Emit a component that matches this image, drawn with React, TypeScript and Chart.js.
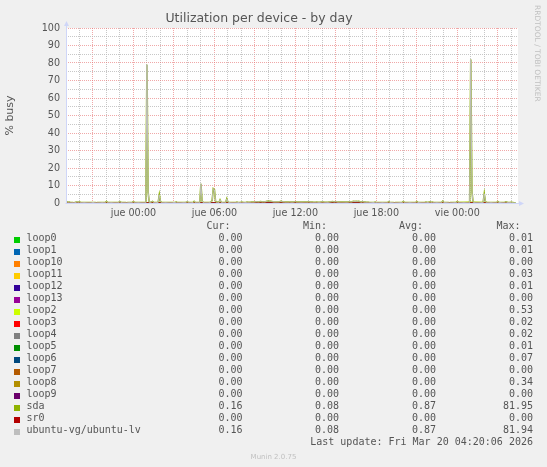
import React, { useEffect, useRef } from "react";
import { Chart, registerables } from "chart.js";

Chart.register(...registerables);

// ---- time axis (hours relative to "jue 00:00") ----
const X_MIN = -5;
const X_MAX = 28.5;
const SDA_START_HOUR = -5; // first 5-minute sample
const SDA_STEP_MINUTES = 5;
const tickHours = [0, 6, 12, 18, 24];
const tickLabels = ["jue 00:00", "jue 06:00", "jue 12:00", "jue 18:00", "vie 00:00"];

// ---- sda utilization, 5-minute samples, one row per hour ----
const sdaValues = [
  0.3, 0.6, 0.4, 0.5, 0.2, 0.2, 0.2, 0.1, 0.2, 0.5, 0.6, 0.4,
  0.6, 0.3, 0.2, 0.2, 0.2, 0.2, 0.2, 0.2, 0.2, 0.2, 0.2, 0.2,
  0.3, 0.2, 0.2, 0.1, 0.2, 0.2, 0.2, 0.2, 0.2, 0.2, 0.2, 0.3,
  0.9, 0.3, 0.2, 0.2, 0.2, 0.2, 0.2, 0.2, 0.2, 0.2, 0.2, 0.4,
  0.8, 0.3, 0.2, 0.2, 0.2, 0.2, 0.1, 0.2, 0.2, 0.2, 0.2, 0.4,
  0.7, 0.3, 0.2, 0.2, 0.2, 0.2, 0.2, 0.2, 0.2, 0.2, 0.2, 0.2,
  79.0, 6.5, 0.4, 0.3, 0.6, 0.9, 0.3, 0.2, 0.2, 0.2, 0.4, 4.7,
  0.8, 0.3, 0.2, 0.2, 0.2, 0.2, 0.2, 0.2, 0.2, 0.2, 0.2, 0.2,
  0.3, 0.2, 0.6, 0.2, 0.2, 0.2, 0.2, 0.2, 0.2, 0.2, 0.2, 0.5,
  0.7, 0.2, 0.2, 0.2, 0.2, 0.2, 0.9, 0.3, 0.2, 0.2, 0.2, 0.3,
  11.0, 1.2, 0.3, 0.2, 0.2, 0.2, 0.2, 0.2, 0.3, 0.6, 1.5, 8.2,
  7.6, 1.0, 0.4, 0.5, 0.3, 1.8, 0.4, 0.3, 0.2, 0.2, 0.3, 2.4,
  0.6, 0.3, 0.2, 0.2, 0.2, 0.2, 0.2, 0.2, 0.5, 0.3, 0.2, 0.2,
  0.5, 0.4, 0.3, 0.3, 0.3, 0.5, 0.4, 0.4, 0.4, 0.5, 0.5, 0.5,
  0.6, 0.7, 0.7, 0.6, 0.7, 0.8, 0.7, 0.6, 0.7, 0.6, 0.9, 1.0,
  1.1, 1.0, 1.0, 0.9, 0.7, 0.6, 0.6, 0.6, 0.6, 0.6, 0.7, 0.9,
  0.8, 0.6, 0.6, 0.5, 0.5, 0.5, 0.5, 0.6, 0.5, 0.5, 0.5, 0.6,
  0.8, 0.5, 0.5, 0.5, 0.5, 0.5, 0.5, 0.5, 0.5, 0.5, 0.5, 0.5,
  0.7, 0.5, 0.5, 0.5, 0.4, 0.4, 0.4, 0.5, 0.4, 0.4, 0.4, 0.5,
  0.6, 0.5, 0.4, 0.4, 0.4, 0.4, 0.5, 0.6, 0.7, 0.8, 0.7, 0.6,
  0.8, 0.6, 0.5, 0.5, 0.5, 0.5, 0.5, 0.5, 0.5, 0.5, 0.5, 0.5,
  0.7, 0.6, 0.6, 0.8, 1.0, 0.9, 1.0, 0.9, 1.0, 0.8, 0.6, 0.5,
  0.8, 0.5, 0.5, 0.4, 0.4, 0.4, 0.3, 0.3, 0.3, 0.3, 0.3, 0.5,
  0.3, 0.2, 0.2, 0.2, 0.2, 0.2, 0.2, 0.2, 0.2, 0.2, 0.2, 0.7,
  0.4, 0.2, 0.2, 0.2, 0.1, 0.2, 0.2, 0.2, 0.2, 0.2, 0.2, 0.2,
  0.8, 0.3, 0.2, 0.2, 0.2, 0.2, 0.2, 0.2, 0.2, 0.2, 0.2, 0.2,
  0.8, 0.3, 0.2, 0.2, 0.2, 0.2, 0.2, 0.2, 0.5, 0.4, 0.3, 0.5,
  0.6, 0.3, 0.5, 0.2, 0.2, 0.2, 0.2, 0.2, 0.2, 0.2, 0.2, 1.0,
  0.4, 0.2, 0.2, 0.2, 0.2, 0.08, 0.2, 0.2, 0.2, 0.2, 0.2, 0.2,
  0.8, 0.3, 0.2, 0.2, 0.2, 0.2, 0.2, 0.2, 0.2, 0.2, 0.2, 0.2,
  81.95, 7.0, 0.5, 0.3, 0.2, 0.2, 0.2, 0.2, 0.2, 0.2, 0.2, 0.2,
  5.3, 0.8, 0.3, 0.2, 0.2, 0.2, 0.2, 0.2, 0.2, 0.2, 0.2, 0.2,
  0.8, 0.3, 0.2, 0.2, 0.2, 0.2, 0.2, 0.6, 0.5, 0.2, 0.2, 0.2,
  0.5, 0.3, 0.2, 0.16, 0.16,
];
// ubuntu-vg/ubuntu-lv lives on sda: its trace reads the same as sda in the picture
const ubuntuLvValues = sdaValues;

// ---- the loop devices and sr0 sit at ~0 %: 3-hourly readings ----
const coarseHours = [-5, -2, 1, 4, 7, 10, 13, 16, 19, 22, 25, 28];
const loop0 = [0, 0, 0, 0.01, 0, 0, 0, 0, 0, 0, 0, 0];
const loop1 = [0, 0, 0, 0, 0, 0.01, 0, 0, 0, 0, 0, 0];
const loop10 = [0, 0, 0, 0, 0, 0, 0, 0, 0, 0, 0, 0];
const loop11 = [0, 0, 0.03, 0, 0, 0, 0, 0, 0, 0, 0, 0];
const loop12 = [0, 0, 0, 0, 0, 0, 0.01, 0, 0, 0, 0, 0];
const loop13 = [0, 0, 0, 0, 0, 0, 0, 0, 0, 0, 0, 0];
const loop2 = [0, 0, 0, 0, 0, 0, 0, 0, 0, 0, 0.53, 0];
const loop3 = [0, 0, 0, 0, 0, 0.02, 0.01, 0, 0, 0, 0, 0];
const loop4 = [0, 0, 0, 0, 0.02, 0, 0, 0, 0, 0, 0, 0];
const loop5 = [0, 0.01, 0, 0, 0, 0, 0, 0, 0, 0, 0, 0];
const loop6 = [0, 0, 0, 0, 0, 0, 0, 0.07, 0, 0, 0, 0];
const loop7 = [0, 0, 0, 0, 0, 0, 0, 0, 0, 0, 0, 0];
const loop8 = [0, 0, 0, 0, 0, 0, 0, 0, 0, 0, 0.34, 0];
const loop9 = [0, 0, 0, 0, 0, 0, 0, 0, 0, 0, 0, 0];
const sr0 = [0, 0, 0, 0, 0, 0, 0, 0, 0, 0, 0, 0];

// ---- legend table ----
const seriesNames = [
  "loop0", "loop1", "loop10", "loop11", "loop12", "loop13", "loop2", "loop3",
  "loop4", "loop5", "loop6", "loop7", "loop8", "loop9", "sda", "sr0", "ubuntu-vg/ubuntu-lv",
];
const seriesColors = [
  "#00CC00", "#0066B3", "#FF8000", "#FFCC00", "#330099", "#990099", "#CCFF00", "#FF0000",
  "#808080", "#008F00", "#00487D", "#B35A00", "#B38F00", "#6B006B", "#8FB300", "#B30000", "#BEBEBE",
];
const curValues = [0, 0, 0, 0, 0, 0, 0, 0, 0, 0, 0, 0, 0, 0, 0.16, 0, 0.16];
const minValues = [0, 0, 0, 0, 0, 0, 0, 0, 0, 0, 0, 0, 0, 0, 0.08, 0, 0.08];
const avgValues = [0, 0, 0, 0, 0, 0, 0, 0, 0, 0, 0, 0, 0, 0, 0.87, 0, 0.87];
const maxValues = [0.01, 0.01, 0.0, 0.03, 0.01, 0.0, 0.53, 0.02, 0.02, 0.01, 0.07, 0.0, 0.34, 0.0, 81.95, 0.0, 81.94];
const columnHeaders = ["Cur:", "Min:", "Avg:", "Max:"];

const TEXT = "#555555";
const SANS = "'DejaVu Sans', sans-serif";
const MONO = "'DejaVu Sans Mono', monospace";

function fineSeries(values: number[]) {
  return values.map((v, i) => ({ x: SDA_START_HOUR + (i * SDA_STEP_MINUTES) / 60, y: v }));
}
function coarseSeries(values: number[]) {
  return values.map((v, i) => ({ x: coarseHours[i], y: v }));
}

const plotBackground = {
  id: "plotBackground",
  beforeDraw(chart: any) {
    const { ctx, chartArea } = chart;
    ctx.save();
    ctx.fillStyle = "#ffffff";
    ctx.fillRect(chartArea.left, chartArea.top, chartArea.right - chartArea.left, chartArea.bottom - chartArea.top);
    ctx.restore();
  },
};

const rrdAxes = {
  id: "rrdAxes",
  afterDatasetsDraw(chart: any) {
    const { ctx, chartArea } = chart;
    const x = Math.floor(chartArea.left) + 0.5;
    const y = Math.floor(chartArea.bottom) + 0.5;
    const top = chartArea.top;
    const right = chartArea.right;
    ctx.save();
    ctx.strokeStyle = "#CFD6F8";
    ctx.fillStyle = "#CFD6F8";
    ctx.lineWidth = 1;
    ctx.beginPath();
    ctx.moveTo(x, y);
    ctx.lineTo(x, top - 2);
    ctx.moveTo(x - 1, y);
    ctx.lineTo(right + 1, y);
    ctx.stroke();
    ctx.beginPath();
    ctx.moveTo(x, top - 7);
    ctx.lineTo(x - 2.5, top - 2);
    ctx.lineTo(x + 2.5, top - 2);
    ctx.closePath();
    ctx.fill();
    ctx.beginPath();
    ctx.moveTo(right + 6, y);
    ctx.lineTo(right + 1, y - 2.5);
    ctx.lineTo(right + 1, y + 2.5);
    ctx.closePath();
    ctx.fill();
    ctx.restore();
  },
};

const MAJOR = "rgba(230, 110, 110, 0.6)";
const MINOR = "rgba(185, 185, 185, 0.8)";

export default function App() {
  const canvasRef = useRef<HTMLCanvasElement | null>(null);

  useEffect(() => {
    if (!canvasRef.current) return;
    const loops = [loop0, loop1, loop10, loop11, loop12, loop13, loop2, loop3, loop4, loop5, loop6, loop7, loop8, loop9];
    const datasets: any[] = [];
    seriesNames.forEach((name, i) => {
      let data;
      if (name === "sda") data = fineSeries(sdaValues);
      else if (name === "ubuntu-vg/ubuntu-lv") data = fineSeries(ubuntuLvValues);
      else if (name === "sr0") data = coarseSeries(sr0);
      else data = coarseSeries(loops[i]);
      datasets.push({
        label: name,
        data,
        borderColor: seriesColors[i],
        backgroundColor: seriesColors[i],
        borderWidth: name === "sda" ? 1.6 : 1,
        pointRadius: 0,
        tension: 0,
        fill: false,
        order: 100 - i,
      });
    });

    const chart = new Chart(canvasRef.current, {
      type: "line",
      data: { datasets },
      plugins: [plotBackground, rrdAxes],
      options: {
        animation: false,
        responsive: false,
        events: [],
        layout: { padding: { top: 0, right: 29, left: 0, bottom: 0 } },
        plugins: {
          legend: { display: false },
          tooltip: { enabled: false },
          title: {
            display: true,
            text: "Utilization per device - by day",
            color: TEXT,
            font: { family: SANS, size: 12.5, weight: "normal" },
            padding: { top: 11.5, bottom: 1.5 },
          },
        },
        scales: {
          x: {
            type: "linear",
            min: X_MIN,
            max: X_MAX,
            border: { display: false, dash: [1, 1] },
            grid: {
              drawTicks: false,
              lineWidth: 1,
              color: (c: any) => (c.tick && c.tick.value % 3 === 0 ? MAJOR : MINOR),
            },
            ticks: {
              stepSize: 1,
              autoSkip: false,
              maxRotation: 0,
              minRotation: 0,
              includeBounds: false,
              maxTicksLimit: 200,
              padding: 5,
              color: TEXT,
              font: { family: SANS, size: 9.6 },
              callback: (v: any) => {
                const k = tickHours.indexOf(Number(v));
                return k >= 0 ? tickLabels[k] : "";
              },
            },
            afterFit: (s: any) => {
              s.height = 22;
            },
          },
          y: {
            min: 0,
            max: 100,
            border: { display: false, dash: [1, 1] },
            grid: {
              drawTicks: false,
              lineWidth: 1,
              color: (c: any) => (c.tick && c.tick.value % 10 === 0 ? MAJOR : MINOR),
            },
            ticks: {
              stepSize: 5,
              autoSkip: false,
              maxTicksLimit: 200,
              padding: 6,
              color: TEXT,
              font: { family: SANS, size: 9.6 },
              callback: (v: any) => (Number(v) % 10 === 0 ? String(v) : ""),
            },
            title: {
              display: true,
              text: "% busy",
              color: TEXT,
              font: { family: SANS, size: 11 },
              padding: { top: 4, bottom: 0 },
            },
            afterFit: (s: any) => {
              s.width = 66;
            },
          },
        },
      },
    });
    return () => chart.destroy();
  }, []);

  const valueRights = [304.5, 208, 111, 14];
  const headerRights = [316.5, 220, 124, 26.5];
  const rowTop = (i: number) => 231.5 + 12 * i;
  const cell = { position: "absolute" as const, fontFamily: MONO, fontSize: 10, lineHeight: "12px", color: TEXT, whiteSpace: "pre" as const };

  return (
    <div style={{ position: "absolute", left: 0, top: 0, width: 547, height: 467, background: "#f0f0f0", overflow: "hidden" }}>
      <canvas ref={canvasRef} width={547} height={225} style={{ position: "absolute", left: 0, top: 0 }} />
      <div
        style={{
          position: "absolute",
          left: 533,
          top: 5,
          writingMode: "vertical-rl",
          fontFamily: SANS,
          fontSize: 7.5,
          lineHeight: "9px",
          color: "#c0c0c0",
          whiteSpace: "nowrap",
        }}
      >
        RRDTOOL / TOBI OETIKER
      </div>
      {columnHeaders.map((h, c) => (
        <div key={h} style={{ ...cell, top: 219.5, right: headerRights[c] }}>
          {h}
        </div>
      ))}
      {seriesNames.map((name, i) => (
        <React.Fragment key={name}>
          <div style={{ position: "absolute", left: 14, top: rowTop(i) + 5.5, width: 6, height: 6, background: seriesColors[i] }} />
          <div style={{ ...cell, left: 26.5, top: rowTop(i) }}>{name}</div>
          {[curValues, minValues, avgValues, maxValues].map((col, c) => (
            <div key={c} style={{ ...cell, top: rowTop(i), right: valueRights[c] }}>
              {col[i].toFixed(2)}
            </div>
          ))}
        </React.Fragment>
      ))}
      <div style={{ ...cell, top: rowTop(17), right: 14 }}>Last update: Fri Mar 20 04:20:06 2026</div>
      <div
        style={{
          position: "absolute",
          left: 0,
          width: 547,
          textAlign: "center",
          top: 452.5,
          fontFamily: SANS,
          fontSize: 7,
          lineHeight: "8px",
          color: "#c0c0c0",
        }}
      >
        Munin 2.0.75
      </div>
    </div>
  );
}
